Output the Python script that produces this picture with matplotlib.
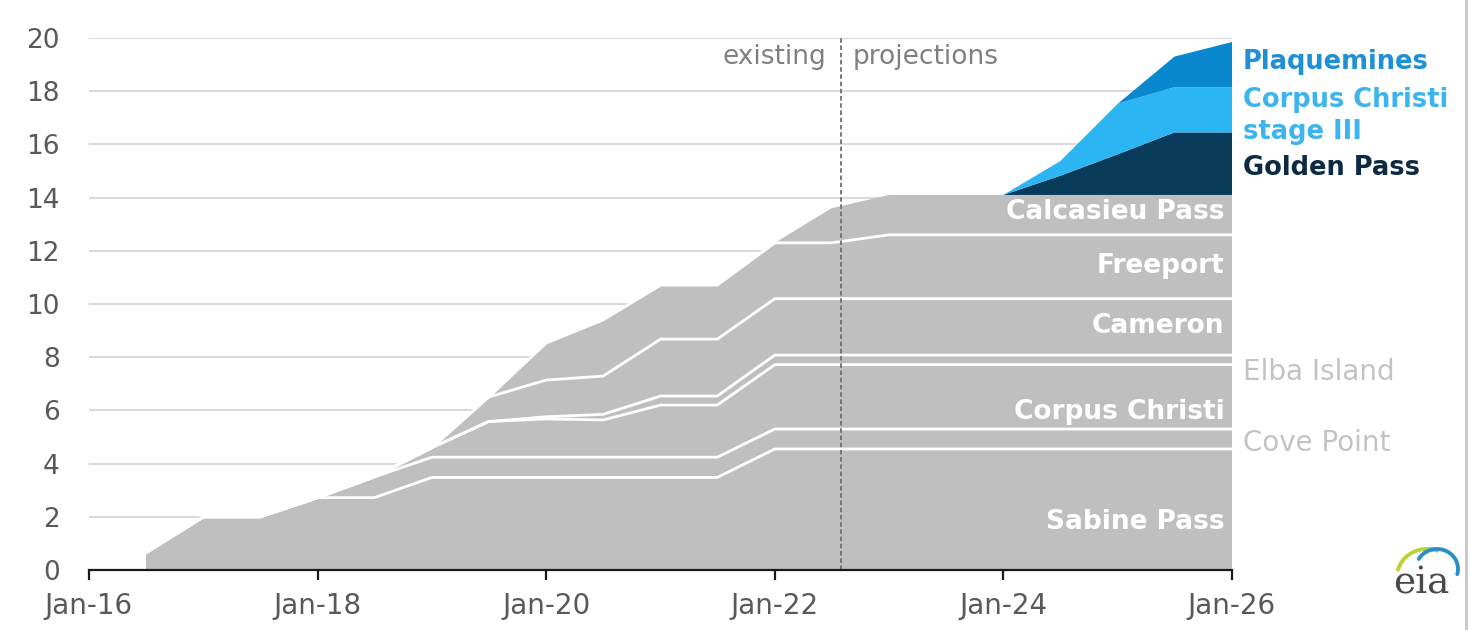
import numpy as np
import matplotlib
matplotlib.use("Agg")
import matplotlib.pyplot as plt

# ---------------- data (bcf/d, stacked) ----------------
dates = ["2016-07-01", "2017-01-01", "2017-07-01", "2018-01-01", "2018-07-01",
         "2019-01-01", "2019-07-01", "2020-01-01", "2020-07-01", "2021-01-01",
         "2021-07-01", "2022-01-01", "2022-07-01", "2023-01-01", "2023-07-01",
         "2024-01-01", "2024-07-01", "2025-01-01", "2025-07-01", "2026-01-01"]

sabine_pass = [0.65, 2.0, 2.0, 2.72, 2.72, 3.48, 3.48, 3.48, 3.48, 3.48,
               3.48, 4.55, 4.55, 4.55, 4.55, 4.55, 4.55, 4.55, 4.55, 4.55]
cove_point = [0, 0, 0, 0, 0.78, 0.76, 0.76, 0.76, 0.76, 0.76,
              0.76, 0.75, 0.75, 0.75, 0.75, 0.75, 0.75, 0.75, 0.75, 0.75]
corpus_christi = [0, 0, 0, 0, 0, 0.36, 1.34, 1.44, 1.40, 1.96,
                  1.96, 2.42, 2.42, 2.42, 2.42, 2.42, 2.42, 2.42, 2.42, 2.42]
elba_island = [0, 0, 0, 0, 0, 0, 0, 0.08, 0.21, 0.34,
               0.34, 0.36, 0.36, 0.36, 0.36, 0.36, 0.36, 0.36, 0.36, 0.36]
cameron = [0, 0, 0, 0, 0, 0, 0.92, 1.38, 1.44, 2.14,
           2.14, 2.12, 2.12, 2.12, 2.12, 2.12, 2.12, 2.12, 2.12, 2.12]
freeport = [0, 0, 0, 0, 0, 0, 0, 1.39, 2.11, 2.03,
            2.03, 2.10, 2.10, 2.40, 2.40, 2.40, 2.40, 2.40, 2.40, 2.40]
calcasieu_pass = [0, 0, 0, 0, 0, 0, 0, 0, 0, 0,
                  0, 0, 1.30, 1.50, 1.50, 1.50, 1.50, 1.50, 1.50, 1.50]
golden_pass = [0, 0, 0, 0, 0, 0, 0, 0, 0, 0,
               0, 0, 0, 0, 0, 0, 0.72, 1.53, 2.35, 2.35]
corpus_christi_iii = [0, 0, 0, 0, 0, 0, 0, 0, 0, 0,
                      0, 0, 0, 0, 0, 0, 0.55, 1.90, 1.70, 1.70]
plaquemines = [0, 0, 0, 0, 0, 0, 0, 0, 0, 0,
               0, 0, 0, 0, 0, 0, 0, 0, 1.15, 1.70]

y_ticks = [0, 2, 4, 6, 8, 10, 12, 14, 16, 18, 20]
x_tick_labels = ["Jan-16", "Jan-18", "Jan-20", "Jan-22", "Jan-24", "Jan-26"]
x_tick_dates = ["2016-01-01", "2018-01-01", "2020-01-01", "2022-01-01",
                "2024-01-01", "2026-01-01"]
divider_date = "2022-08-01"

# ---------------- figure ----------------
plt.rcParams["font.family"] = ["DejaVu Sans"]
fig = plt.figure(figsize=(14.71, 6.30), dpi=100)
ax = fig.add_axes([89 / 1471, 60 / 630, 1143 / 1471, 532 / 630])

x = np.array(dates, dtype="datetime64[D]")
gray_layers = [sabine_pass, cove_point, corpus_christi, elba_island,
               cameron, freeport, calcasieu_pass]
blue_layers = [golden_pass, corpus_christi_iii, plaquemines]
blue_colors = ["#083a5a", "#2bb5f2", "#0a88cf"]

GRAY = "#bfbfbf"
base = np.zeros(len(x))
tops = []
for layer in gray_layers:
    top = base + np.array(layer, dtype=float)
    ax.fill_between(x, base, top, facecolor=GRAY, edgecolor="none",
                    linewidth=0, zorder=2)
    tops.append(top)
    base = top
for layer, col in zip(blue_layers, blue_colors):
    top = base + np.array(layer, dtype=float)
    ax.fill_between(x, base, top, facecolor=col, edgecolor="none",
                    linewidth=0, zorder=2)
    base = top

# white separators between the grey terminals
for top in tops[:-1]:
    ax.plot(x, top, color="white", lw=2.0, zorder=3, solid_joinstyle="round")

# axes styling
ax.set_ylim(0, 20)
ax.set_xlim(np.datetime64("2016-01-01"), np.datetime64("2026-01-01"))
ax.set_yticks(y_ticks)
ax.set_yticklabels([str(v) for v in y_ticks])
ax.set_xticks(np.array(x_tick_dates, dtype="datetime64[D]"))
ax.set_xticklabels(x_tick_labels)
ax.grid(axis="y", color="#d9d9d9", lw=1.4, zorder=0)
ax.set_axisbelow(True)
for s in ["top", "right", "left"]:
    ax.spines[s].set_visible(False)
ax.spines["bottom"].set_color("#1a1a1a")
ax.spines["bottom"].set_linewidth(1.6)
ax.spines["bottom"].set_zorder(5)
ax.tick_params(axis="y", length=0, pad=21, labelsize=19, labelcolor="#595959")
ax.tick_params(axis="x", length=7, width=1.6, color="#1a1a1a", pad=9,
               labelsize=20, labelcolor="#595959", direction="out")

# existing / projections divider
ax.axvline(np.datetime64(divider_date), color="#6f6f6f", lw=1.3,
           ls=(0, (2.5, 1.5)), zorder=4)
ax.annotate("existing", xy=(np.datetime64(divider_date), 19.3), xytext=(-11, 0),
            textcoords="offset points", ha="right", va="center",
            fontsize=19, color="#808080")
ax.annotate("projections", xy=(np.datetime64(divider_date), 19.3), xytext=(8, 0),
            textcoords="offset points", ha="left", va="center",
            fontsize=19, color="#808080")

# in-area labels (white, bold, right aligned)
tr = ax.get_yaxis_transform()
inside = [("Calcasieu Pass", 13.46), ("Freeport", 11.43), ("Cameron", 9.17),
          ("Corpus Christi", 5.94), ("Sabine Pass", 1.8)]
for name, yv in inside:
    ax.text(0.9935, yv, name, transform=tr, ha="right", va="center",
            fontsize=19, fontweight="bold", color="white", zorder=6)

outside = [("Elba Island", 7.44, "#c3c3c3", "normal"),
           ("Cove Point", 4.77, "#c3c3c3", "normal"),
           ("Plaquemines", 19.1, "#1f8fd6", "bold"),
           ("Corpus Christi", 17.67, "#3cb5ef", "bold"),
           ("stage III", 16.47, "#3cb5ef", "bold"),
           ("Golden Pass", 15.11, "#0d2a44", "bold")]
for name, yv, col, wt in outside:
    ax.text(1.0095, yv, name, transform=tr, ha="left", va="center",
            fontsize=18.5 if wt == "bold" else 20, fontweight=wt,
            color=col, clip_on=False)

# eia logo (decoration)
lax = fig.add_axes([1380 / 1471, 25 / 630, 85 / 1471, 70 / 630])
lax.set_xlim(0, 85)
lax.set_ylim(0, 70)
lax.axis("off")
lax.text(41, 22, "eia", family="DejaVu Serif", fontsize=27, color="#4a4a4a",
         ha="center", va="center")
ang = np.linspace(np.radians(165), np.radians(70), 50)
lax.plot(47 + 30 * np.cos(ang), 28 + 28 * np.sin(ang), color="#b8d335", lw=2.8,
         solid_capstyle="round")
ang2 = np.linspace(np.radians(150), np.radians(-15), 60)
lax.plot(57 + 21 * np.cos(ang2), 36 + 20 * np.sin(ang2), color="#2a8fc9", lw=2.8,
         solid_capstyle="round")

# right frame line
fig.add_artist(plt.Line2D([1466 / 1471, 1466 / 1471], [0, 1], color="#c8c8c8",
                          lw=2, transform=fig.transFigure))

fig.savefig("out.png", dpi=100, facecolor="white")
